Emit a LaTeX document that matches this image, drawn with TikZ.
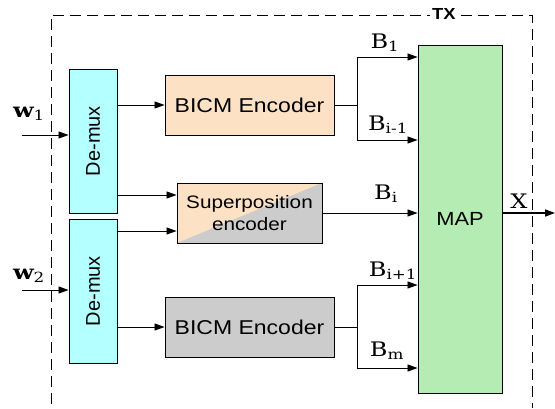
\documentclass[tikz,border=0pt]{standalone}
\usepackage{fontspec}
\setsansfont{Liberation Sans}
\newfontfamily\widesans[FakeStretch=1.15]{Liberation Sans}
\newfontfamily\labelfont[FakeStretch=1.2]{DejaVu Serif}
\usetikzlibrary{arrows.meta}
\definecolor{demuxc}{RGB}{180,255,255}
\definecolor{bicmc}{RGB}{253,225,196}
\definecolor{grayc}{RGB}{204,204,204}
\definecolor{mapc}{RGB}{180,236,180}

\begin{document}
\begin{tikzpicture}[x=1pt, y=-1pt, line width=0.8pt,
  >={Triangle[length=10pt,width=7pt]},
  blk/.style={draw, line width=0.9pt, inner sep=0pt},
  demuxbox/.style={blk, fill=demuxc, minimum width=48pt, minimum height=144pt,
    font=\sffamily\fontsize{20}{22}\selectfont},
  encbox/.style={blk, minimum width=169pt, minimum height=60pt,
    font=\widesans\fontsize{20}{22}\selectfont},
  lbl/.style={inner sep=0pt, font=\labelfont\fontsize{20}{22}\selectfont}]
  \useasboundingbox (0,0) rectangle (555,408);
  % TX frame, open at the bottom
  \draw[dash pattern=on 11pt off 6pt, line width=0.9pt] (51,404) -- (51,15) -- (532,15) -- (532,408);
  \node[fill=white, inner sep=2pt, font=\widesans\bfseries\fontsize{16}{18}\selectfont] (tx) at (444,14) {TX};
  % blocks
  \node[demuxbox] (demuxA) at (93,141) {\rotatebox{90}{De-mux}};
  \node[demuxbox] (demuxB) at (93,291) {\rotatebox{90}{De-mux}};
  \node[encbox, fill=bicmc] (encA) at (249.5,105) {BICM Encoder};
  \node[encbox, fill=grayc] (encB) at (249.5,327) {BICM Encoder};
  \node[blk, fill=bicmc, minimum width=145pt, minimum height=60pt, align=center,
    font=\widesans\fontsize{18}{22}\selectfont,
    path picture={\fill[grayc] (path picture bounding box.south west)
      -- (path picture bounding box.north east)
      -- (path picture bounding box.south east) -- cycle;}]
    (sup) at (249.5,213) {Superposition\\encoder};
  \node[blk, fill=mapc, minimum width=84pt, minimum height=348pt,
    font=\widesans\fontsize{19}{22}\selectfont] (map) at (460,219) {MAP};
  % inputs
  \coordinate (inA) at (22,135);
  \coordinate (inB) at (22,290);
  \draw[->] (inA) -- (inA -| demuxA.west);
  \draw[->] (inB) -- (inB -| demuxB.west);
  \node[lbl] (wA) at (29,114) {{\bfseries w}\textsubscript{1}};
  \node[lbl] (wB) at (29,276) {{\bfseries w}\textsubscript{2}};
  % de-mux outputs
  \coordinate (supA) at ([yshift=18pt]sup.west);
  \coordinate (supB) at ([yshift=-18pt]sup.west);
  \draw[->] (demuxA.east |- encA.west) -- (encA.west);
  \draw[->] (supA -| demuxA.east) -- (supA);
  \draw[->] (supB -| demuxB.east) -- (supB);
  \draw[->] (demuxB.east |- encB.west) -- (encB.west);
  % branches into MAP
  \coordinate (brA) at (357,105);
  \coordinate (brB) at (357,327);
  \coordinate (mB1) at (map.west |- 0,57);
  \coordinate (mBa) at (map.west |- 0,140);
  \coordinate (mBb) at (map.west |- 0,285);
  \coordinate (mBm) at (map.west |- 0,368);
  \draw (encA.east) -- (brA);
  \draw[->] (brA) |- (mB1);
  \draw[->] (brA) |- (mBa);
  \draw (encB.east) -- (brB);
  \draw[->] (brB) |- (mBb);
  \draw[->] (brB) |- (mBm);
  \draw[->] (sup.east) -- (sup.east -| map.west);
  \node[lbl] (lB1) at (385,43) {B\textsubscript{1}};
  \node[lbl] (lBa) at (388,125) {B\textsubscript{i-1}};
  \node[lbl] (lBi) at (386,194) {B\textsubscript{i}};
  \node[lbl] (lBb) at (393,271) {B\textsubscript{i+1}};
  \node[lbl] (lBm) at (387,351) {B\textsubscript{m}};
  % output
  \coordinate (xout) at (555,213);
  \draw[->, line width=1.5pt] (map.east |- xout) -- (xout);
  \node[lbl] (lX) at (519,201) {X};
\end{tikzpicture}
\end{document}
